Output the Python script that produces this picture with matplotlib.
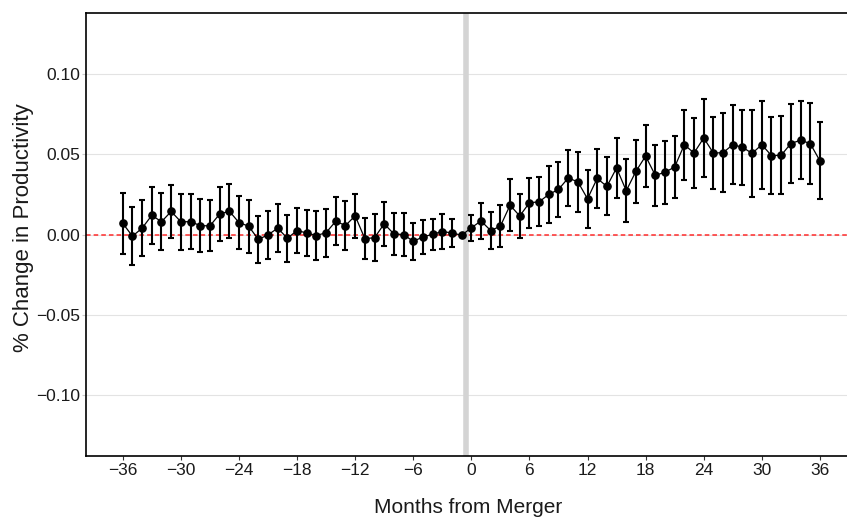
import matplotlib
matplotlib.use("Agg")
from matplotlib import pyplot as plt

plt.rcParams['font.family'] = ['Liberation Sans', 'DejaVu Sans']

# Months relative to merger (-36 .. 36)
months = list(range(-36, 37))

# Point estimates
estimates = [
    0.0070, -0.0010, 0.0040, 0.0120, 0.0080, 0.0144, 0.0080, 0.0080, 0.0056, 0.0054,
    0.0127, 0.0146, 0.0075, 0.0052, -0.0030, -0.0002, 0.0040, -0.0023, 0.0025, 0.0010,
    -0.0006, 0.0012, 0.0083, 0.0056, 0.0117, -0.0025, -0.0020, 0.0067, 0.0004, 0.0000,
    -0.0042, -0.0015, 0.0002, 0.0019, 0.0010, -0.0004, 0.0042, 0.0085, 0.0025, 0.0052,
    0.0183, 0.0116, 0.0198, 0.0204, 0.0250, 0.0281, 0.0352, 0.0329, 0.0223, 0.0350,
    0.0300, 0.0415, 0.0273, 0.0394, 0.0489, 0.0369, 0.0388, 0.0421, 0.0560, 0.0508,
    0.0602, 0.0508, 0.0510, 0.0560, 0.0544, 0.0506, 0.0560, 0.0492, 0.0494, 0.0567,
    0.0588, 0.0567, 0.0460,
]

# Half-width of the confidence interval (0 for the reference month -1)
half_ci = [
    0.0189, 0.0179, 0.0176, 0.0176, 0.0177, 0.0164, 0.0174, 0.0172, 0.0164, 0.0159,
    0.0168, 0.0168, 0.0168, 0.0165, 0.0146, 0.0150, 0.0149, 0.0145, 0.0141, 0.0142,
    0.0153, 0.0150, 0.0149, 0.0155, 0.0136, 0.0129, 0.0146, 0.0139, 0.0130, 0.0134,
    0.0114, 0.0106, 0.0098, 0.0110, 0.0089, 0.0000, 0.0080, 0.0113, 0.0118, 0.0131,
    0.0162, 0.0135, 0.0154, 0.0153, 0.0179, 0.0172, 0.0174, 0.0186, 0.0180, 0.0185,
    0.0181, 0.0189, 0.0197, 0.0195, 0.0194, 0.0189, 0.0198, 0.0192, 0.0219, 0.0217,
    0.0242, 0.0227, 0.0246, 0.0248, 0.0233, 0.0272, 0.0274, 0.0241, 0.0243, 0.0245,
    0.0243, 0.0251, 0.0239,
]

x_ticks = [-36, -30, -24, -18, -12, -6, 0, 6, 12, 18, 24, 30, 36]
y_ticks = [-0.10, -0.05, 0.00, 0.05, 0.10]


def make_plot():
    fig = plt.figure(figsize=(8.47, 5.23), dpi=100)
    ax = fig.add_axes([0.1015, 0.128, 0.8985, 0.847])

    # grid only on y
    for yt in y_ticks:
        ax.axhline(yt, color="#e3e3e3", lw=0.8, zorder=0)

    # zero line + merger marker
    ax.axhline(0, color="#ff2a2a", lw=1.1, ls=(0, (3, 2)), zorder=1)
    ax.axvline(-0.5, color="#d4d4d4", lw=4, zorder=2)

    ax.plot(months, estimates, color="black", lw=0.9, zorder=3)
    err_x = [m for m, h in zip(months, half_ci) if h > 0]
    err_y = [e for e, h in zip(estimates, half_ci) if h > 0]
    err_h = [h for h in half_ci if h > 0]
    ax.errorbar(err_x, err_y, yerr=err_h, fmt="none", ecolor="black",
                elinewidth=1.5, capsize=2.2, capthick=1.5, zorder=4)
    ax.plot(months, estimates, "o", color="black", ms=5.2, zorder=5)

    ax.set_xlim(-39.8, 38.8)
    ax.set_ylim(-0.138, 0.138)
    ax.set_xticks(x_ticks)
    ax.set_xticklabels([str(t).replace("-", "\u2212") for t in x_ticks], fontsize=12.5)
    ax.set_yticks(y_ticks)
    ax.set_yticklabels(["\u22120.10", "\u22120.05", "0.00", "0.05", "0.10"],
                       fontsize=12.5)

    ax.tick_params(axis="y", length=3, color="#cccccc", pad=1, labelcolor="#1a1a1a")
    ax.tick_params(axis="x", length=3, color="#333333", pad=2, labelcolor="#1a1a1a")

    for side in ["left", "top", "bottom"]:
        ax.spines[side].set_linewidth(1.2)
        ax.spines[side].set_color("black")
    ax.spines["right"].set_visible(False)

    fig.text(0.028, 0.564, "% Change in Productivity", rotation=90,
             ha="center", va="center", fontsize=16, color="#1a1a1a")
    fig.text(0.553, 0.012, "Months from Merger", ha="center", va="bottom",
             fontsize=15, color="#1a1a1a")

    fig.savefig("out.png", dpi=100)
    plt.close(fig)


make_plot()
